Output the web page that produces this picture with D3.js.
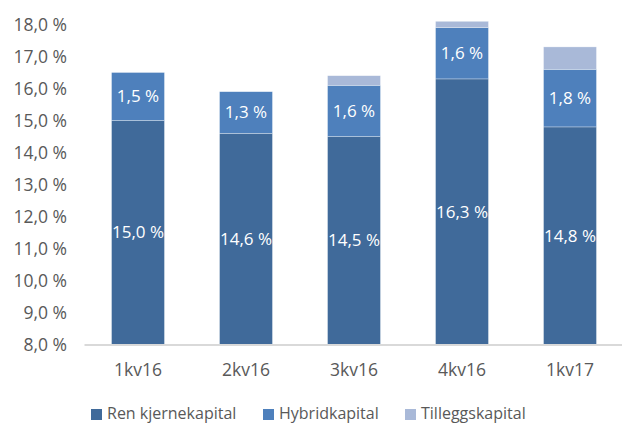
<!DOCTYPE html>
<html>
<head>
<meta charset="utf-8">
<script src="https://d3js.org/d3.v7.min.js"></script>
<style>
  body { margin: 0; background: #fff; }
  text { font-family: "Open Sans", sans-serif; }
</style>
</head>
<body>
<script>
'use strict';

// chart data
const quarters = ["1kv16", "2kv16", "3kv16", "4kv16", "1kv17"];
const renKjerne = [15.0, 14.6, 14.5, 16.3, 14.8];
const hybrid = [1.5, 1.3, 1.6, 1.6, 1.8];
const tillegg = [0, 0, 0.3, 0.2, 0.7];
const seriesNames = ["Ren kjernekapital", "Hybridkapital", "Tilleggskapital"];
const yTicks = [8, 9, 10, 11, 12, 13, 14, 15, 16, 17, 18];

const colors = ["#406A9A", "#4E80BC", "#A9B9D8"];

const svg = d3.select("body").append("svg")
  .attr("width", 622)
  .attr("height", 423);

// scales
const x = d3.scaleBand()
  .domain(quarters)
  .range([84, 624])
  .paddingInner(0.51)
  .paddingOuter(0.255);

const y = d3.scaleLinear()
  .domain([8, 18])
  .range([344.5, 24.5]);

const fmt = v => v.toFixed(1).replace(".", ",") + " %";

// y axis labels (no line, no ticks)
const yAxis = d3.axisLeft(y).tickValues(yTicks).tickSize(0).tickPadding(0).tickFormat(fmt);
const gy = svg.append("g")
  .attr("transform", "translate(67,0)")
  .call(yAxis);
gy.select(".domain").remove();
gy.selectAll("text")
  .attr("fill", "#595959")
  .style("font-size", "17.5px")
  .style("font-family", "'Open Sans', sans-serif");

// stack the series
const rows = quarters.map((q, i) => ({ q: q, ren: renKjerne[i], hyb: hybrid[i], til: tillegg[i] }));
const stack = d3.stack().keys(["ren", "hyb", "til"]);
const stacked = stack(rows);

// bars start at the axis minimum (8 %)
const base = 8;
stacked.forEach((layer, li) => {
  svg.append("g")
    .selectAll("rect")
    .data(layer)
    .enter()
    .append("rect")
      .attr("x", d => x(d.data.q))
      .attr("width", x.bandwidth())
      .attr("y", d => y(d[1]))
      .attr("height", d => Math.max(0, y(li === 0 ? base : d[0]) - y(d[1])))
      .attr("fill", colors[li])
      .attr("stroke", d => d[1] - d[0] > 0 ? "#ffffff" : "none")
      .attr("stroke-width", 0.6)
      .attr("stroke-opacity", 0.5);
});

// data labels for ren and hybrid
[0, 1].forEach(li => {
  svg.append("g")
    .selectAll("text")
    .data(stacked[li])
    .enter()
    .append("text")
      .attr("x", d => x(d.data.q) + x.bandwidth() / 2)
      .attr("y", d => (y(li === 0 ? base : d[0]) + y(d[1])) / 2)
      .attr("dy", "0.35em")
      .attr("text-anchor", "middle")
      .attr("fill", "#ffffff")
      .style("font-size", "17px")
      .text(d => fmt(d[1] - d[0]));
});

// x axis baseline + labels
const xAxis = d3.axisBottom(x).tickSize(0).tickPadding(0);
const gx = svg.append("g")
  .attr("transform", "translate(0," + y(base) + ")")
  .call(xAxis);
gx.select(".domain")
  .attr("stroke", "#D9D9D9")
  .attr("stroke-width", 2);
gx.selectAll("text")
  .attr("y", 31.5)
  .attr("dy", 0)
  .attr("fill", "#595959")
  .style("font-size", "17.5px")
  .style("font-family", "'Open Sans', sans-serif");

// legend
const legendX = [91, 263, 405];
const legend = svg.append("g");
seriesNames.forEach((name, i) => {
  legend.append("rect")
    .attr("x", legendX[i])
    .attr("y", 409)
    .attr("width", 11)
    .attr("height", 11)
    .attr("fill", colors[i]);
  legend.append("text")
    .attr("x", legendX[i] + 16)
    .attr("y", 419)
    .attr("fill", "#595959")
    .style("font-size", "16px")
    .text(name);
});
</script>
</body>
</html>
